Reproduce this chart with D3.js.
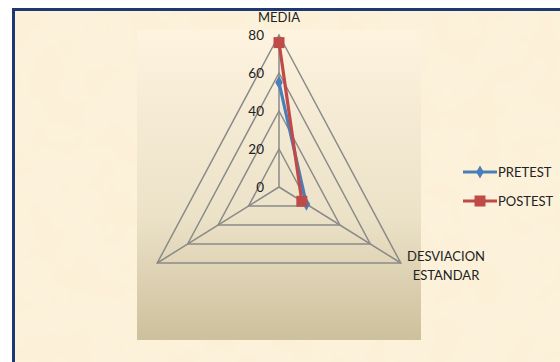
<!DOCTYPE html>
<html><head><meta charset="utf-8">
<script src="https://cdn.jsdelivr.net/npm/d3@7"></script>
<style>body{margin:0;background:#fff}svg{display:block}</style>
</head><body>
<svg id="c" width="560" height="362"></svg>
<script>
const categories = ["MEDIA", "DESVIACION ESTANDAR", ""];
const pretest = [55, 18, null];
const postest = [76, 15, null];
const seriesNames = ["PRETEST", "POSTEST"];
const tickValues = [0, 20, 40, 60, 80];

const svg = d3.select("#c");
const defs = svg.append("defs");
const bgGrad = defs.append("linearGradient").attr("id","pg").attr("x1",0).attr("y1",0).attr("x2",0).attr("y2",1);
bgGrad.append("stop").attr("offset","0").attr("stop-color","#fdf3df");
bgGrad.append("stop").attr("offset","0.6").attr("stop-color","#ece2c8");
bgGrad.append("stop").attr("offset","1").attr("stop-color","#cdc09c");
const f = defs.append("filter").attr("id","tex").attr("x",0).attr("y",0).attr("width",1).attr("height",1);
f.append("feTurbulence").attr("type","fractalNoise").attr("baseFrequency",0.03).attr("numOctaves",3).attr("seed",4).attr("result","n");
f.append("feColorMatrix").attr("in","n").attr("type","matrix")
 .attr("values","0 0 0 0 0.99  0 0 0 0 0.93  0 0 0 0 0.80  0 0 0 0.35 0").attr("result","c");
f.append("feComposite").attr("in","c").attr("in2","SourceGraphic").attr("operator","over");

// chart area frame
svg.append("rect").attr("x",13.5).attr("y",9.5).attr("width",560).attr("height",360)
  .attr("fill","#fcf0d6").attr("stroke","#1e3872").attr("stroke-width",3);
svg.append("rect").attr("x",15).attr("y",11).attr("width",545).attr("height",351)
  .attr("fill","#fcf0d6").attr("filter","url(#tex)");

// plot area
svg.append("rect").attr("x",137).attr("y",30).attr("width",284).attr("height",310).attr("fill","url(#pg)");

const cx = 279, cy = 187, kx = 0.925;
const r = d3.scaleLinear().domain([0,80]).range([0,152]);
const ang = d3.scalePoint().domain(d3.range(categories.length)).range([0, 2*Math.PI*(categories.length-1)/categories.length]);
const pt = (i, v) => {
  const a = -Math.PI/2 + ang(i);
  return [cx + kx*r(v)*Math.cos(a), cy + r(v)*Math.sin(a)];
};

const g = svg.append("g");
// rings
tickValues.forEach(t => {
  if (t === 0) return;
  const pts = categories.map((c,i) => pt(i,t));
  g.append("path").attr("d", d3.line()(pts) + "Z").attr("fill","none").attr("stroke","#8a8a8a").attr("stroke-width",1.5);
});
// spokes
categories.forEach((c,i) => {
  const p = pt(i, 80);
  g.append("line").attr("x1",cx).attr("y1",cy).attr("x2",p[0]).attr("y2",p[1]).attr("stroke","#8a8a8a").attr("stroke-width",1.5);
});
// tick labels
tickValues.forEach(t => {
  g.append("text").attr("x",cx-15).attr("y",pt(0,t)[1]+5).attr("text-anchor","end")
   .attr("font-family","Lato, sans-serif").attr("font-size",13.5).attr("fill","#222").text(t);
});
// category labels
g.append("text").attr("x",cx).attr("y",22).attr("text-anchor","middle")
 .attr("font-family","Lato, sans-serif").attr("font-size",13).attr("fill","#222").text(categories[0]);
const dl = g.append("text").attr("text-anchor","middle").attr("font-family","Lato, sans-serif").attr("font-size",13).attr("fill","#222");
categories[1].split(" ").forEach((w,k) => dl.append("tspan").attr("x",446).attr("y",261+k*19).text(w));

const colors = ["#4a7ebb", "#be4b48"];
const data = [pretest, postest];
const line = d3.line().defined(d => d[1] != null).x(d => pt(d[0], d[1])[0]).y(d => pt(d[0], d[1])[1]);
data.forEach((vals, s) => {
  const seq = vals.map((v,i) => [i, v]);
  g.append("path").attr("d", line(seq)).attr("fill","none").attr("stroke",colors[s]).attr("stroke-width",3.2);
});
data.forEach((vals, s) => {
  vals.forEach((v,i) => {
    if (v == null) return;
    const p = pt(i, v);
    if (s === 0) g.append("path").attr("d", d3.symbol(d3.symbolDiamond, 50)()).attr("transform",`translate(${p[0]},${p[1]})`).attr("fill",colors[s]);
    else g.append("rect").attr("x",p[0]-5.5).attr("y",p[1]-5.5).attr("width",11).attr("height",11).attr("fill",colors[s]);
  });
});

// legend
const ly = [172, 201];
seriesNames.forEach((n, s) => {
  g.append("line").attr("x1",463).attr("x2",497).attr("y1",ly[s]).attr("y2",ly[s]).attr("stroke",colors[s]).attr("stroke-width",3.2);
  if (s === 0) g.append("path").attr("d", d3.symbol(d3.symbolDiamond, 50)()).attr("transform",`translate(480,${ly[s]})`).attr("fill",colors[s]);
  else g.append("rect").attr("x",474.5).attr("y",ly[s]-5.5).attr("width",11).attr("height",11).attr("fill",colors[s]);
  g.append("text").attr("x",498).attr("y",ly[s]+5).attr("font-family","Lato, sans-serif").attr("font-size",13).attr("fill","#222").text(n);
});
</script>
</body></html>
